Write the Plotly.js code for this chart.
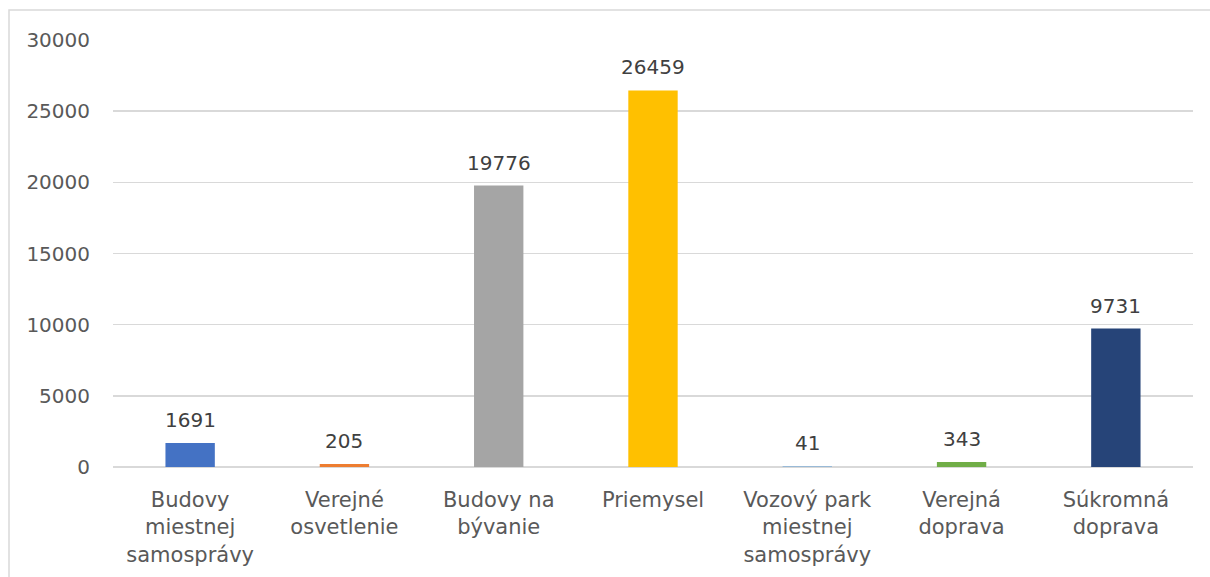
<!DOCTYPE html>
<html>
<head>
<meta charset="utf-8">
<script src="https://cdn.plot.ly/plotly-3.0.1.min.js"></script>
<style>html,body{margin:0;padding:0;background:#fff;}#chart{width:1210px;height:577px;}</style>
</head>
<body>
<div id="chart"></div>
<script>
const categories = [
  "Budovy<br>miestnej<br>samosprávy",
  "Verejné<br>osvetlenie",
  "Budovy na<br>bývanie",
  "Priemysel",
  "Vozový park<br>miestnej<br>samosprávy",
  "Verejná<br>doprava",
  "Súkromná<br>doprava"
];
const values = [1691, 205, 19776, 26459, 41, 343, 9731];
const barColors = ["#4472C4", "#ED7D31", "#A5A5A5", "#FFC000", "#5B9BD5", "#70AD47", "#264478"];
const yTicks = [0, 5000, 10000, 15000, 20000, 25000, 30000];

const font = "DejaVu Sans, sans-serif";
const trace = {
  type: "bar",
  x: categories,
  y: values,
  marker: {color: barColors},
  hoverinfo: "none"
};
const annotations = categories.map((c, i) => ({
  x: c, y: values[i], xref: "x", yref: "y",
  text: String(values[i]),
  showarrow: false,
  yanchor: "bottom",
  yshift: 9,
  font: {family: font, size: 20, color: "#404040"}
}));
const layout = {
  width: 1210, height: 577,
  margin: {l: 113, r: 17, t: 40, b: 110},
  paper_bgcolor: "#fff", plot_bgcolor: "#fff",
  showlegend: false,
  bargap: 0.68,
  font: {family: font, size: 20, color: "#595959"},
  xaxis: {
    type: "category",
    showgrid: false,
    showline: false,
    ticks: "",
    tickfont: {family: font, size: 21, color: "#595959"},
    ticklabelstandoff: 18,
    fixedrange: true
  },
  yaxis: {
    range: [0, 30000],
    tickvals: yTicks,
    ticktext: yTicks.map(String),
    showgrid: true,
    gridcolor: "#d9d9d9",
    gridwidth: 1.5,
    zeroline: true,
    zerolinecolor: "#d9d9d9",
    zerolinewidth: 1.5,
    showline: false,
    ticks: "",
    ticklabelstandoff: 22,
    tickfont: {family: font, size: 20, color: "#595959"},
    fixedrange: true
  },
  annotations: annotations,
  shapes: [{
    type: "rect", xref: "paper", yref: "paper",
    x0: -0.0963, x1: 1.2, y0: -0.4, y1: 1.0703,
    line: {color: "#d9d9d9", width: 1.5},
    fillcolor: "rgba(0,0,0,0)",
    layer: "below"
  }]
};
Plotly.newPlot("chart", [trace], layout, {displayModeBar: false, staticPlot: true});
</script>
</body>
</html>
